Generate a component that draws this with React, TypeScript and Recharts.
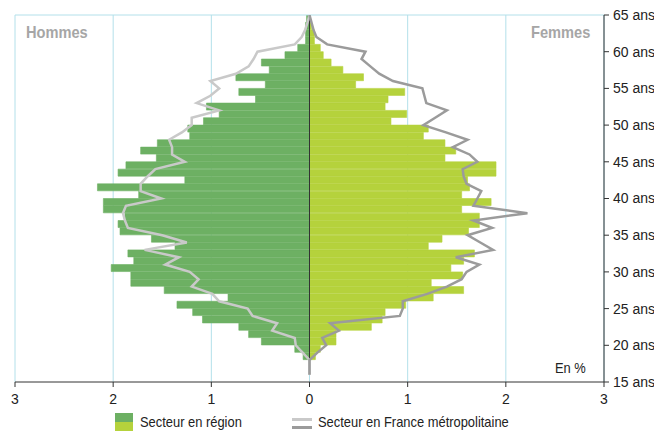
import React from "react";
import { ComposedChart, Bar, Line, XAxis, YAxis, CartesianGrid, ReferenceLine } from "recharts";

// ages 18 .. 64 (one bar per year of age)
const agesBarres = [
  18, 19, 20, 21, 22, 23, 24, 25, 26, 27, 28, 29, 30, 31, 32, 33, 34, 35, 36, 37, 38, 39, 40, 41,
  42, 43, 44, 45, 46, 47, 48, 49, 50, 51, 52, 53, 54, 55, 56, 57, 58, 59, 60, 61, 62, 63, 64,
];
const hommesRegion = [
  0.065, 0.15, 0.49, 0.62, 0.72, 1.09, 1.19, 1.35, 0.83, 1.48, 1.82, 1.82, 2.02, 1.79, 1.85, 1.37,
  1.61, 1.93, 1.95, 1.88, 2.1, 2.1, 1.74, 2.16, 1.27, 1.95, 1.87, 1.56, 1.72, 1.55, 1.22, 1.24,
  1.08, 0.92, 1.05, 0.55, 0.72, 0.45, 0.75, 0.41, 0.49, 0.25, 0.12, 0.04, 0.04, 0.04, 0.03,
];
const femmesRegion = [
  0.06, 0.11, 0.27, 0.27, 0.63, 0.74, 0.77, 0.98, 1.26, 1.57, 1.24, 1.56, 1.44, 1.57, 1.68, 1.21,
  1.35, 1.62, 1.73, 1.73, 1.55, 1.85, 1.55, 1.63, 1.61, 1.9, 1.9, 1.38, 1.49, 1.38, 1.16, 1.21,
  0.83, 0.99, 0.77, 0.8, 0.97, 0.47, 0.55, 0.34, 0.22, 0.14, 0.11, 0.05, 0.05, 0.02, 0,
];

// France métropolitaine, ages 16 .. 65
const agesLignes = [
  16, 17, 18, 19, 20, 21, 22, 23, 24, 25, 26, 27, 28, 29, 30, 31, 32, 33, 34, 35, 36, 37, 38, 39,
  40, 41, 42, 43, 44, 45, 46, 47, 48, 49, 50, 51, 52, 53, 54, 55, 56, 57, 58, 59, 60, 61, 62, 63,
  64, 65,
];
const hommesFrance = [
  0, 0, 0, 0.07, 0.14, 0.15, 0.38, 0.33, 0.58, 0.63, 0.92, 0.99, 1.2, 1.13, 1.22, 1.47, 1.33, 1.68,
  1.25, 1.5, 1.85, 1.88, 1.9, 1.87, 1.51, 1.72, 1.72, 1.65, 1.57, 1.27, 1.4, 1.4, 1.43, 1.3, 1.2,
  1.2, 0.92, 1.15, 1.01, 0.92, 1.01, 0.75, 0.62, 0.57, 0.53, 0.15, 0.08, 0.044, 0.02, 0,
];
const femmesFrance = [
  0, 0, 0, 0.08, 0.17, 0.13, 0.3, 0.21, 0.92, 0.95, 0.95, 1.2, 1.4, 1.55, 1.6, 1.73, 1.49, 1.87,
  1.74, 1.61, 1.86, 1.67, 2.22, 1.67, 1.71, 1.75, 1.6, 1.57, 1.56, 1.71, 1.63, 1.46, 1.61, 1.39,
  1.16, 1.28, 1.4, 1.19, 1.17, 1.15, 0.85, 0.71, 0.62, 0.53, 0.57, 0.18, 0.07, 0.04, 0.02, 0,
];

const ticksX = [-3, -2, -1, 0, 1, 2, 3];
const ticksAge = [15, 20, 25, 30, 35, 40, 45, 50, 55, 60, 65];

const VERT = "#6db063";
const VERT_CLAIR = "#b5d23c";
const GRIS_H = "#c9c9c9";
const GRIS_F = "#9b9b9b";
const BLEU = "#b3e0ea";
const FONT = "'Liberation Sans', Arial, sans-serif";

const barres = agesBarres.map((a, i) => ({ age: a + 0.5, h: -hommesRegion[i], f: femmesRegion[i] }));
const lignes = agesLignes.map((a, i) => ({ age: a, hf: -hommesFrance[i], ff: femmesFrance[i] }));

const narrow = (left: number, top: number, size: number, extra: React.CSSProperties = {}) => ({
  position: "absolute" as const,
  left,
  top,
  fontSize: size,
  whiteSpace: "nowrap" as const,
  transform: "scaleX(0.86)",
  transformOrigin: "left center",
  color: "#222",
  ...extra,
});

export default function App() {
  return (
    <div style={{ position: "absolute", left: 0, top: 0, width: 654, height: 432, fontFamily: FONT, background: "#fff" }}>
      <ComposedChart
        width={654}
        height={432}
        layout="vertical"
        data={barres}
        stackOffset="sign"
        barCategoryGap={0}
        margin={{ top: 15, right: 0, left: 15, bottom: 20 }}
      >
        <CartesianGrid horizontal={false} stroke={BLEU} strokeWidth={1} />
        <XAxis
          type="number"
          domain={[-3, 3]}
          ticks={ticksX}
          tickFormatter={(v) => String(Math.abs(v))}
          axisLine={{ stroke: "#333" }}
          tickLine={{ stroke: "#333" }}
          tickSize={5}
          tickMargin={7}
          height={30}
          tick={{ fill: "#222", fontSize: 14, fontFamily: FONT }}
          allowDataOverflow
        />
        <YAxis
          type="number"
          dataKey="age"
          orientation="right"
          domain={[15, 65]}
          ticks={ticksAge}
          reversed
          allowDataOverflow
          tickFormatter={(v) => `${v} ans`}
          axisLine={{ stroke: "#333" }}
          tickLine={{ stroke: "#333" }}
          tickSize={5}
          tickMargin={4}
          width={50}
          tick={{ fill: "#222", fontSize: 14, fontFamily: FONT, textAnchor: "start" }}
        />
        <YAxis yAxisId="lignes" type="number" dataKey="age" domain={[15, 65]} reversed allowDataOverflow hide />
        <ReferenceLine y={65} stroke={BLEU} />
        <Bar dataKey="h" stackId="a" fill={VERT} stroke={VERT} strokeWidth={0.6} isAnimationActive={false} />
        <Bar dataKey="f" stackId="a" fill={VERT_CLAIR} stroke={VERT_CLAIR} strokeWidth={0.6} isAnimationActive={false} />
        <ReferenceLine segment={[{ x: 0, y: 18 }, { x: 0, y: 65 }]} stroke="#333" strokeWidth={1} />
        <Line yAxisId="lignes" data={lignes} dataKey="hf" stroke={GRIS_H} strokeWidth={2.5} dot={false} isAnimationActive={false} />
        <Line yAxisId="lignes" data={lignes} dataKey="ff" stroke={GRIS_F} strokeWidth={2.5} dot={false} isAnimationActive={false} />
      </ComposedChart>

      <div style={narrow(26, 23, 17, { fontWeight: "bold", color: "#a6a6a6" })}>Hommes</div>
      <div style={narrow(531, 23, 17, { fontWeight: "bold", color: "#a6a6a6" })}>Femmes</div>
      <div style={narrow(555, 359, 15)}>En %</div>

      <div style={{ position: "absolute", left: 115, top: 413, width: 18, height: 9, background: VERT }} />
      <div style={{ position: "absolute", left: 115, top: 422, width: 18, height: 9, background: VERT_CLAIR }} />
      <div style={narrow(140, 413, 15)}>Secteur en région</div>
      <div style={{ position: "absolute", left: 292, top: 418, width: 20, height: 3, background: GRIS_H }} />
      <div style={{ position: "absolute", left: 292, top: 426, width: 20, height: 3, background: GRIS_F }} />
      <div style={narrow(318, 413, 15)}>Secteur en France métropolitaine</div>
    </div>
  );
}
